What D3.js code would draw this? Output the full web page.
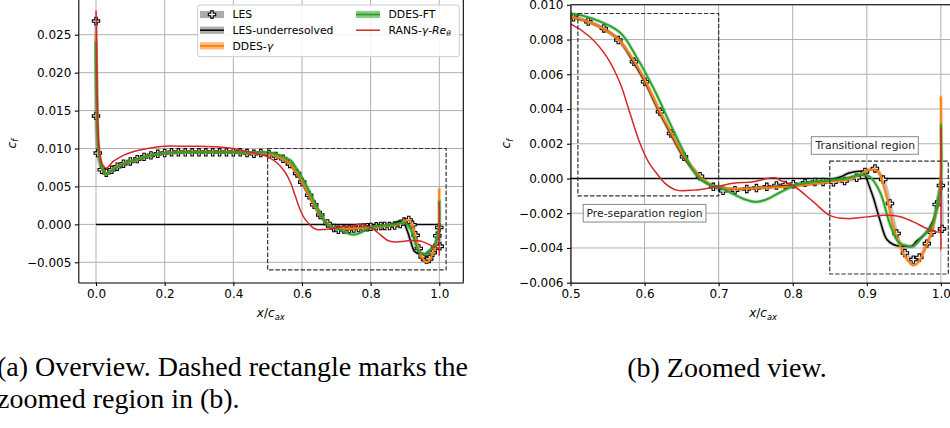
<!DOCTYPE html>
<html><head><meta charset="utf-8">
<script src="https://cdn.jsdelivr.net/npm/d3@7"></script>
<style>
body{margin:0;background:#fff}
svg{display:block}
text{font-family:"DejaVu Sans",sans-serif}
</style></head><body>
<svg id="c" width="950" height="428"></svg>
<script>
// ---------------- data (x/c_ax , c_f) ----------------
const lesX  = [0.0,0.0,0.005,0.0166,0.03,0.046,0.062,0.08,0.1,0.12,0.14,0.16,0.18,0.2,0.22,0.24,0.26,0.28,0.30,0.32,0.34,0.36,0.38,0.40,0.42,0.44,0.46,0.48,
  0.504,0.524,0.545,0.5645,0.5857,0.6006,0.6208,0.6357,0.6532,0.6748,0.6928,0.706,0.722,0.738,0.751,0.765,0.778,0.79,0.8008,0.8166,0.83,0.841,0.855,0.87,0.8863,0.8975,0.911,0.9222,0.9313,0.9403,0.9515,0.9628,0.9709,0.981,0.9876,0.9943,1.0,1.0015];
const lesCf = [0.0268,0.0143,0.0094,0.0072,0.0068,0.0072,0.0076,0.0080,0.0083,0.0086,0.0089,0.0091,0.0093,0.0094,0.0095,0.0095,0.0095,0.0095,0.0095,0.0095,0.0095,0.0095,0.0095,0.0095,0.0095,0.0094,0.0093,0.0094,
  0.00928,0.00903,0.00864,0.00797,0.00672,0.00557,0.00384,0.00259,0.00125,0.00013,-0.00048,-0.00071,-0.00067,-0.0006,-0.00055,-0.00048,-0.0004,-0.00037,-0.00033,-0.00025,-0.0002,-0.0002,-0.00022,-0.00015,0.00004,0.00038,0.00058,-0.00006,-0.00144,-0.00317,-0.00429,-0.00467,-0.00455,-0.00375,-0.0031,-0.0015,-0.0004,-0.0029];

const lesUrX  = [0.0,0.002,0.006,0.012,0.02,0.03,0.04,0.06,0.08,0.1,0.13,0.16,0.2,0.25,0.3,0.35,0.4,0.45,0.5,0.525,0.545,0.565,0.585,0.60,0.62,0.635,0.65,0.665,0.675,0.69,0.70,0.72,0.75,0.78,0.80,0.83,0.85,0.865,0.875,0.886,0.893,0.8975,0.903,0.9088,0.9178,0.9268,0.9358,0.9448,0.953,0.9606,0.9673,0.9786,0.9898,0.998,1.0];
const lesUrCf = [0.024,0.017,0.0105,0.0082,0.0071,0.0067,0.0070,0.0076,0.0080,0.0083,0.0087,0.0091,0.0094,0.0095,0.0095,0.0095,0.0095,0.0094,0.0093,0.0090,0.0086,0.0080,0.0067,0.0056,0.0038,0.0026,0.0014,0.0005,0.0000,-0.0004,-0.0005,-0.0006,-0.00055,-0.00045,-0.0004,-0.0003,-0.0001,0.0001,0.0003,0.0004,0.0004,0.0002,-0.0004,-0.0011,-0.0024,-0.0035,-0.0038,-0.0039,-0.0039,-0.0039,-0.0036,-0.0032,-0.0024,-0.0011,-0.0004];

const ddesGX  = [0.0,0.002,0.006,0.012,0.02,0.03,0.04,0.06,0.08,0.1,0.13,0.16,0.2,0.25,0.3,0.35,0.4,0.45,0.5,0.525,0.545,0.565,0.585,0.60,0.62,0.635,0.65,0.665,0.675,0.69,0.70,0.72,0.75,0.78,0.80,0.83,0.85,0.87,0.88,0.89,0.90,0.905,0.913,0.918,0.927,0.936,0.947,0.955,0.963,0.97,0.976,0.982,0.988,0.994,0.9988,1.0];
const ddesGCf = [0.025,0.018,0.011,0.0085,0.0072,0.0066,0.0070,0.0076,0.0080,0.0083,0.0087,0.0091,0.0094,0.0095,0.0095,0.0095,0.0095,0.0094,0.0093,0.0090,0.0086,0.0080,0.0068,0.0057,0.0039,0.0027,0.0015,0.0006,0.0001,-0.0004,-0.0005,-0.0006,-0.00055,-0.0005,-0.00045,-0.0003,-0.0002,-0.0001,0.0,0.0002,0.00045,0.0005,0.0005,0.0002,-0.0011,-0.0028,-0.0041,-0.0047,-0.0050,-0.0048,-0.0043,-0.0037,-0.0030,-0.0018,-0.0005,0.0047];

const ddesFtX  = [0.0,0.002,0.006,0.012,0.02,0.03,0.04,0.06,0.08,0.1,0.13,0.16,0.2,0.25,0.3,0.35,0.4,0.45,0.5,0.53,0.567,0.589,0.612,0.634,0.652,0.665,0.677,0.69,0.70,0.72,0.735,0.75,0.765,0.783,0.81,0.85,0.87,0.891,0.904,0.918,0.931,0.9425,0.956,0.963,0.976,0.988,0.9966,1.0,1.0];
const ddesFtCf = [0.024,0.017,0.011,0.0085,0.0072,0.0066,0.0069,0.0075,0.0080,0.0083,0.0087,0.0091,0.0094,0.0095,0.0095,0.0095,0.0095,0.00945,0.0095,0.0092,0.0084,0.0070,0.0052,0.0032,0.0016,0.0005,-0.0001,-0.0004,-0.0005,-0.0009,-0.0012,-0.00135,-0.0012,-0.0008,-0.0003,-0.0001,0.0,0.0002,0.0001,-0.0008,-0.0026,-0.00365,-0.0039,-0.0039,-0.0033,-0.0027,-0.0011,-0.0004,0.0031];

const ransX  = [0.0,0.001,0.004,0.01,0.02,0.03,0.04,0.05,0.06,0.08,0.11,0.15,0.2,0.26,0.3,0.36,0.4,0.44,0.47,0.5,0.526,0.549,0.567,0.58,0.594,0.606,0.618,0.628,0.643,0.666,0.693,0.72,0.747,0.769,0.778,0.783,0.80,0.828,0.85,0.873,0.90,0.922,0.945,0.963,0.981,0.994,0.9988,1.0,1.0];
const ransCf = [0.0282,0.026,0.016,0.0095,0.0078,0.0074,0.0078,0.0083,0.0086,0.0091,0.0096,0.0100,0.0103,0.0103,0.0103,0.0102,0.0100,0.0096,0.0093,0.0089,0.00816,0.0070,0.00548,0.0038,0.0020,0.0009,0.0002,-0.0003,-0.00067,-0.00067,-0.0005,-0.00027,-0.00019,0.00003,0.00003,-0.0001,-0.00039,-0.00135,-0.00212,-0.00231,-0.00221,-0.00212,-0.0022,-0.0025,-0.00288,-0.00308,-0.0031,-0.0041,0.0029];

const seriesNames = ["LES","LES-underresolved","DDES-γ","DDES-FT","RANS-γ-Reθ"];

const xTicksA = [0.0,0.2,0.4,0.6,0.8,1.0];
const yTicksA = [-0.005,0.000,0.005,0.010,0.015,0.020,0.025];
const xTicksB = [0.5,0.6,0.7,0.8,0.9,1.0];
const yTicksB = [-0.006,-0.004,-0.002,0.000,0.002,0.004,0.006,0.008,0.010];

// regions (data coords): [x0, x1, y0, y1]
const zoomRegion = [0.5, 1.02, -0.006, 0.010];
const preSepRegion = [0.51, 0.70, -0.001, 0.0095];
const transRegion = [0.85, 1.01, -0.0055, 0.001];
const annotations = [
  {text:"Pre-separation region", x:0.600, y:-0.00200},
  {text:"Transitional region",  x:0.898, y:0.00190}
];
const captionA = ["(a) Overview. Dashed rectangle marks the", "zoomed region in (b)."];
const captionB = "(b) Zoomed view.";

// ---------------- drawing ----------------
const zip = (xs, ys) => xs.map((v,i)=>[v, ys[i]]);
const series = [
  {name:seriesNames[0], pts:zip(lesX,lesCf),     line:null,      band:"#7f7f7f", bandOp:0.45, lw:0,   marker:true},
  {name:seriesNames[1], pts:zip(lesUrX,lesUrCf), line:"#000000", band:"#7f7f7f", bandOp:0.45, lw:1.5},
  {name:seriesNames[2], pts:zip(ddesGX,ddesGCf), line:"#ff7f0e", band:"#ff7f0e", bandOp:0.35, lw:1.8},
  {name:seriesNames[3], pts:zip(ddesFtX,ddesFtCf), line:"#2ca02c", band:"#2ca02c", bandOp:0.35, lw:1.8},
  {name:seriesNames[4], pts:zip(ransX,ransCf),   line:"#d62728", band:null,      bandOp:0,    lw:1.5}
];

const svg = d3.select("#c");
const defs = svg.append("defs");
const FS = 12, LFS = 10.8;

function panel(o){
  const {x, y, xTicks, yTicks, xFmt, yFmt, id, rightSpine, topSpine} = o;
  const [x0,x1] = x.range(); const [yb,yt] = y.range();
  defs.append("clipPath").attr("id",id).append("rect")
    .attr("x",x0).attr("y",yt).attr("width",x1-x0).attr("height",yb-yt);
  const g = svg.append("g");
  // grid
  g.append("g").selectAll("line").data(xTicks).join("line")
    .attr("x1",d=>x(d)).attr("x2",d=>x(d)).attr("y1",yb).attr("y2",yt)
    .attr("stroke","#b0b0b0").attr("stroke-width",1);
  g.append("g").selectAll("line").data(yTicks).join("line")
    .attr("y1",d=>y(d)).attr("y2",d=>y(d)).attr("x1",x0).attr("x2",x1)
    .attr("stroke","#b0b0b0").attr("stroke-width",1);
  const p = g.append("g").attr("clip-path",`url(#${id})`);
  // zero line
  p.append("line").attr("x1",x(0)).attr("x2",x(1)).attr("y1",y(0)).attr("y2",y(0))
    .attr("stroke","#000").attr("stroke-width",1.5);
  const line = d3.line().x(d=>x(d[0])).y(d=>y(d[1])).curve(d3.curveCatmullRom.alpha(0.5));
  series.forEach(s=>{
    if(s.band) p.append("path").attr("d",line(s.pts)).attr("fill","none")
      .attr("stroke",s.band).attr("stroke-opacity",s.bandOp).attr("stroke-width",3.6)
      .attr("stroke-linejoin","round").attr("stroke-linecap","round");
    if(s.marker){
      p.append("g").selectAll("path").data(s.pts).join("path")
        .attr("transform",d=>`translate(${x(d[0])},${y(d[1])})`)
        .attr("d",d3.symbol(d3.symbolCross,30))
        .attr("fill","#fff").attr("stroke","#000").attr("stroke-width",1.1);
    }
    if(s.line) p.append("path").attr("d",line(s.pts)).attr("fill","none")
      .attr("stroke",s.line).attr("stroke-width",s.lw).attr("stroke-linejoin","round");
  });
  // regions
  const rect = (r, gg) => gg.append("rect")
    .attr("x",x(r[0])).attr("y",y(r[3])).attr("width",x(r[1])-x(r[0])).attr("height",y(r[2])-y(r[3]))
    .attr("fill","none").attr("stroke","#333").attr("stroke-width",1.2).attr("stroke-dasharray","4.4,1.9");
  (o.regions||[]).forEach(r=>rect(r,p));
  // annotations
  (o.annots||[]).forEach(a=>{
    const ag = g.append("g");
    const t = ag.append("text").attr("x",x(a.x)).attr("y",y(a.y)).attr("text-anchor","middle")
      .attr("dominant-baseline","central").attr("font-size",LFS).attr("fill","#222").text(a.text);
    const bb = t.node().getBBox();
    ag.insert("rect","text").attr("x",bb.x-3.3).attr("y",y(a.y)-8.8).attr("width",bb.width+6.6).attr("height",17.6)
      .attr("fill","#fff").attr("stroke","#888").attr("stroke-width",1);
  });
  // axes
  const ax = g.append("g").attr("transform",`translate(0,${yb})`)
    .call(d3.axisBottom(x).tickValues(xTicks).tickFormat(xFmt).tickSize(3.5).tickPadding(3.5).tickSizeOuter(0));
  const ay = g.append("g").attr("transform",`translate(${x0},0)`)
    .call(d3.axisLeft(y).tickValues(yTicks).tickFormat(yFmt).tickSize(3.5).tickPadding(3.5).tickSizeOuter(0));
  [ax,ay].forEach(a=>{ a.attr("font-size",FS).attr("font-family","DejaVu Sans");
    a.selectAll("text").attr("fill","#000"); a.select(".domain").attr("stroke","#000").attr("stroke-width",1.1);
    a.selectAll(".tick line").attr("stroke","#000").attr("stroke-width",1.1); });
  if(rightSpine) g.append("line").attr("x1",x1).attr("x2",x1).attr("y1",yb).attr("y2",yt).attr("stroke","#000").attr("stroke-width",1.1);
  if(topSpine) g.append("line").attr("x1",x0).attr("x2",x1).attr("y1",yt).attr("y2",yt).attr("stroke","#000").attr("stroke-width",1.1);
  // labels
  const xl = g.append("text").attr("x",(x0+x1)/2).attr("y",yb+34.5).attr("text-anchor","middle").attr("font-size",FS);
  xl.append("tspan").attr("font-style","italic").text("x");
  xl.append("tspan").text("/");
  xl.append("tspan").attr("font-style","italic").text("c");
  xl.append("tspan").attr("font-style","italic").attr("font-size",FS*0.7).attr("dy",2.5).text("ax");
  const yl = g.append("text").attr("transform",`translate(${o.ylabX},${o.ylabY}) rotate(-90)`).attr("text-anchor","middle").attr("font-size",FS);
  yl.append("tspan").attr("font-style","italic").text("c");
  yl.append("tspan").attr("font-style","italic").attr("font-size",FS*0.7).attr("dy",2.5).text("f");
  return g;
}

const fmt3 = d3.format(".3f"), fmt1 = d3.format(".1f");

const xA = d3.scaleLinear().domain([-0.0516,1.07]).range([78.3,463.3]);
const yA = d3.scaleLinear().domain([-0.00766,0.0305]).range([282.5,-7]);
panel({x:xA,y:yA,xTicks:xTicksA,yTicks:yTicksA,xFmt:fmt1,yFmt:fmt3,id:"clipA",rightSpine:true,topSpine:false,
  regions:[zoomRegion], ylabX:15.5, ylabY:143.7});

const xB = d3.scaleLinear().domain([zoomRegion[0],zoomRegion[1]]).range([570.5,955.7]);
const yB = d3.scaleLinear().domain([zoomRegion[2],zoomRegion[3]]).range([282.7,4.8]);
panel({x:xB,y:yB,xTicks:xTicksB,yTicks:yTicksB,xFmt:fmt1,yFmt:fmt3,id:"clipB",rightSpine:true,topSpine:true,
  regions:[preSepRegion,transRegion], annots:annotations, ylabX:510, ylabY:143.7});

// legend
const lg = svg.append("g");
lg.append("rect").attr("x",197.7).attr("y",5).attr("width",261.6).attr("height",51.7).attr("rx",2.5)
  .attr("fill","#fff").attr("fill-opacity",0.85).attr("stroke","#cccccc").attr("stroke-width",1);
const slots = [[200,14.5],[200,30.2],[200,45.9],[356,14.5],[356,30.2]];
series.forEach((s,i)=>{
  const [hx,hy] = slots[i];
  const e = lg.append("g").attr("transform",`translate(${hx},${hy})`);
  if(s.band) e.append("rect").attr("x",0).attr("y",-3.6).attr("width",24).attr("height",7.2)
    .attr("fill",s.band).attr("fill-opacity",s.bandOp+0.2);
  if(s.line) e.append("line").attr("x1",0).attr("x2",24).attr("y1",0).attr("y2",0).attr("stroke",s.line).attr("stroke-width",s.lw);
  if(s.marker) e.append("path").attr("transform","translate(12,0)").attr("d",d3.symbol(d3.symbolCross,30))
    .attr("fill","#fff").attr("stroke","#000").attr("stroke-width",1.1);
  const t = e.append("text").attr("x",32.5).attr("y",0).attr("dy","0.36em").attr("font-size",LFS).attr("fill","#000");
  if(i===2){ t.append("tspan").text("DDES-"); t.append("tspan").attr("font-style","italic").text("γ"); }
  else if(i===4){ t.append("tspan").text("RANS-"); t.append("tspan").attr("font-style","italic").text("γ");
    t.append("tspan").text("-"); t.append("tspan").attr("font-style","italic").text("Re");
    t.append("tspan").attr("font-style","italic").attr("font-size",LFS*0.7).attr("dy",2.3).text("θ"); }
  else t.text(s.name);
});

// captions
const cap = svg.append("g").attr("font-size",28).attr("fill","#000");
cap.append("text").attr("x",-3).attr("y",376).style("font-family","'Liberation Serif',serif").text(captionA[0]);
cap.append("text").attr("x",-3).attr("y",408).style("font-family","'Liberation Serif',serif").text(captionA[1]);
cap.append("text").attr("x",727).attr("y",377).attr("text-anchor","middle").style("font-family","'Liberation Serif',serif").text(captionB);
</script></body></html>
